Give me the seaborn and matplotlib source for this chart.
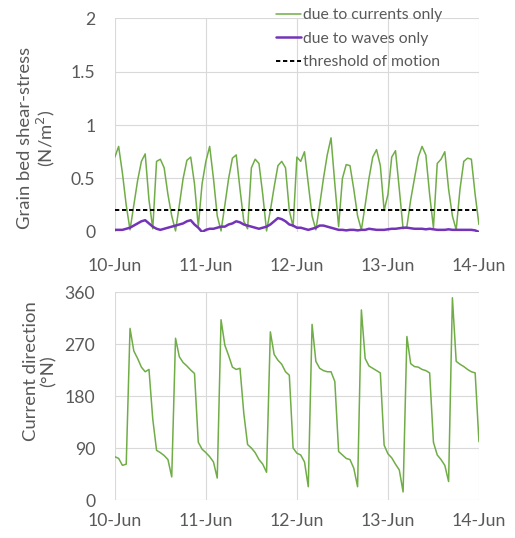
import pandas as pd
import matplotlib
matplotlib.use("Agg")
import matplotlib.pyplot as plt
import matplotlib.dates as mdates
import seaborn as sns

# hourly values, 10-Jun 00:00 to 14-Jun 00:00
start = "2019-06-10 00:00"

currents = [0.70, 0.80, 0.55, 0.25, 0.02, 0.25, 0.48, 0.66, 0.73, 0.30,
            0.03, 0.66, 0.68, 0.60, 0.35, 0.15, 0.01, 0.25, 0.50, 0.67,
            0.70, 0.45, 0.05, 0.45, 0.66, 0.80, 0.50, 0.15, 0.01, 0.25,
            0.50, 0.69, 0.72, 0.40, 0.10, 0.03, 0.60, 0.68, 0.64, 0.35,
            0.01, 0.20, 0.42, 0.62, 0.66, 0.60, 0.20, 0.05, 0.70, 0.66,
            0.75, 0.45, 0.15, 0.02, 0.25, 0.50, 0.72, 0.88, 0.45, 0.05,
            0.50, 0.63, 0.62, 0.40, 0.15, 0.02, 0.25, 0.50, 0.70, 0.77,
            0.62, 0.20, 0.35, 0.70, 0.76, 0.40, 0.03, 0.05, 0.30, 0.50,
            0.70, 0.80, 0.72, 0.35, 0.04, 0.64, 0.68, 0.75, 0.40, 0.15,
            0.02, 0.40, 0.66, 0.69, 0.68, 0.35, 0.07]

waves = [0.02, 0.02, 0.02, 0.03, 0.04, 0.06, 0.08, 0.10, 0.11, 0.08,
         0.05, 0.03, 0.02, 0.03, 0.04, 0.05, 0.06, 0.07, 0.08, 0.10,
         0.11, 0.07, 0.04, 0.00, 0.02, 0.03, 0.03, 0.04, 0.05, 0.05,
         0.07, 0.08, 0.10, 0.09, 0.07, 0.06, 0.05, 0.04, 0.03, 0.04,
         0.05, 0.07, 0.10, 0.13, 0.12, 0.10, 0.07, 0.06, 0.04, 0.04,
         0.03, 0.02, 0.03, 0.04, 0.06, 0.06, 0.05, 0.04, 0.03, 0.02,
         0.02, 0.015, 0.02, 0.02, 0.015, 0.02, 0.02, 0.03, 0.025, 0.02,
         0.02, 0.02, 0.025, 0.03, 0.03, 0.035, 0.04, 0.04, 0.035, 0.03,
         0.03, 0.03, 0.025, 0.03, 0.025, 0.02, 0.02, 0.02, 0.025, 0.02,
         0.02, 0.02, 0.02, 0.02, 0.02, 0.015, 0.00]

threshold = 0.21

direction = [75, 72, 60, 62, 297, 258, 245, 230, 222, 226,
             140, 86, 82, 77, 70, 40, 280, 248, 238, 232,
             225, 219, 100, 88, 82, 75, 66, 38, 312, 268,
             250, 230, 226, 228, 150, 96, 90, 82, 70, 62,
             48, 291, 252, 242, 235, 222, 216, 90, 81, 78,
             66, 23, 304, 240, 228, 224, 222, 222, 205, 84,
             78, 72, 70, 55, 23, 329, 245, 232, 228, 224,
             220, 95, 80, 73, 62, 52, 14, 283, 236, 231,
             230, 226, 224, 220, 100, 78, 70, 60, 32, 350,
             240, 235, 231, 226, 222, 220, 101]

day_ticks = ["2019-06-10", "2019-06-11", "2019-06-12", "2019-06-13", "2019-06-14"]

GREEN = "#70AD47"
PURPLE = "#7434B8"
TEXT = "#595959"
GRID = "#D9D9D9"

times = pd.date_range(start, periods=len(currents), freq="h")
stress = pd.DataFrame({"time": times, "currents": currents, "waves": waves})
dirs = pd.DataFrame({"time": times, "direction": direction})

sns.set_theme(style="whitegrid")
plt.rcParams["font.family"] = ["Lato", "DejaVu Sans"]


def styleAxis(ax, pad_x):
    ax.set_xlim(times[0], times[-1])
    ax.set_xticks(pd.to_datetime(day_ticks))
    ax.xaxis.set_major_formatter(mdates.DateFormatter("%d-%b"))
    ax.grid(True, color=GRID, linewidth=0.8)
    for s in ax.spines.values():
        s.set_visible(False)
    ax.tick_params(axis="both", length=0, labelsize=12.7, colors=TEXT)
    ax.tick_params(axis="x", pad=pad_x)
    ax.tick_params(axis="y", pad=14)
    ax.set_xlabel("")


fig = plt.figure(figsize=(5.15, 5.38), dpi=100)
ax1 = fig.add_axes([0.223, 0.5688, 0.707, 0.3977])
ax2 = fig.add_axes([0.223, 0.0706, 0.707, 0.3866])

# top panel: shear stress
sns.lineplot(data=stress, x="time", y="currents", ax=ax1, color=GREEN,
             linewidth=1.1, label="due to currents only")
sns.lineplot(data=stress, x="time", y="waves", ax=ax1, color=PURPLE,
             linewidth=1.8, label="due to waves only")
ax1.axhline(threshold, color="black", linewidth=1.4, dashes=(2.2, 1.4),
            label="threshold of motion")
ax1.set_ylim(0, 2)
ax1.set_yticks([0, 0.5, 1, 1.5, 2])
ax1.set_yticklabels(["0", "0.5", "1", "1.5", "2"])
styleAxis(ax1, 19)
ax1.set_ylabel("Grain bed shear-stress\n(N/m$^2$)", fontsize=13.3, color=TEXT,
               linespacing=1.1)
ax1.yaxis.set_label_coords(-0.16, 0.44)
leg = ax1.legend(loc="upper left", bbox_to_anchor=(0.425, 1.075), frameon=False,
                 fontsize=11.3, handlelength=1.6, handletextpad=0.1,
                 borderaxespad=0, labelspacing=0.6)
for t in leg.get_texts():
    t.set_color(TEXT)

# bottom panel: current direction
sns.lineplot(data=dirs, x="time", y="direction", ax=ax2, color=GREEN,
             linewidth=1.1)
ax2.set_ylim(0, 360)
ax2.set_yticks([0, 90, 180, 270, 360])
styleAxis(ax2, 9)
ax2.set_ylabel("Current direction\n(°N)", fontsize=13.3, color=TEXT,
               linespacing=1.1)
ax2.yaxis.set_label_coords(-0.16, 0.62)

fig.savefig("out.png", dpi=100)
